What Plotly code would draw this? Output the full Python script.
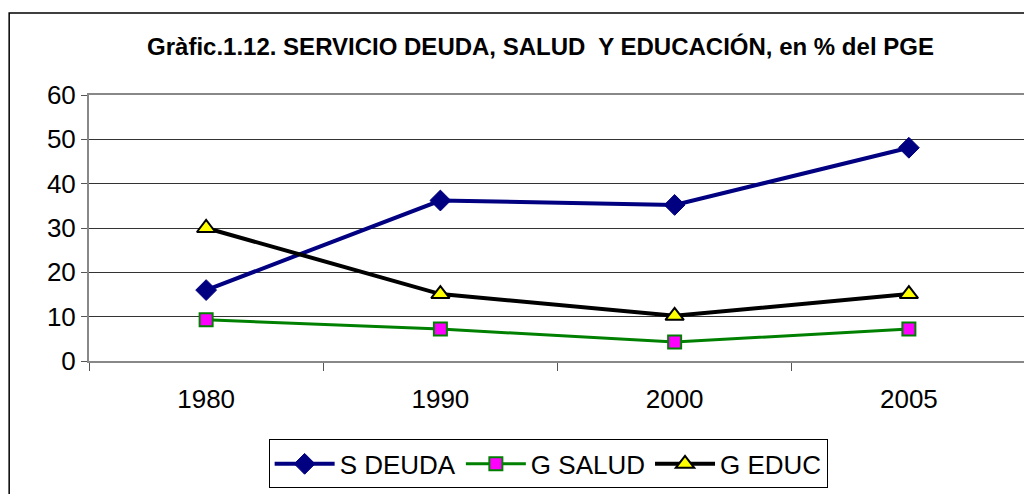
import plotly.graph_objects as go

years = ["1980", "1990", "2000", "2005"]
s_deuda = [16.0, 36.2, 35.2, 48.1]
g_salud = [9.3, 7.2, 4.3, 7.2]
g_educ = [30.0, 15.1, 10.2, 15.1]

FONT = "Liberation Sans, Arial, sans-serif"

fig = go.Figure()
fig.add_trace(go.Scatter(
    x=years, y=s_deuda, name="S DEUDA", mode="lines+markers",
    line=dict(color="#000080", width=4),
    marker=dict(symbol="diamond", size=16, color="#000080", line=dict(color="#000080", width=1)),
))
fig.add_trace(go.Scatter(
    x=years, y=g_salud, name="G SALUD", mode="lines+markers",
    line=dict(color="#008000", width=3),
    marker=dict(symbol="square", size=13, color="#ff00ff", line=dict(color="#008000", width=2)),
))
fig.add_trace(go.Scatter(
    x=years, y=g_educ, name="G EDUC", mode="lines+markers",
    line=dict(color="#000000", width=4),
    marker=dict(symbol="triangle-up", size=16, color="#ffff00", line=dict(color="#000000", width=2)),
))

# outer chart frame
fig.add_shape(type="rect", xref="paper", yref="paper",
              x0=-0.0852, x1=1.2, y0=-0.7, y1=1.308,
              line=dict(color="black", width=1.5), fillcolor="rgba(0,0,0,0)", layer="below")

fig.update_layout(
    width=1024, height=486,
    margin=dict(l=81, r=4, t=87, b=133),
    paper_bgcolor="white", plot_bgcolor="white",
    font=dict(family=FONT, color="black"),
    title=dict(text="<b>Gràfic.1.12. SERVICIO DEUDA, SALUD  Y EDUCACIÓN, en % del PGE</b>",
               x=0.52, xanchor="center", y=0.92, yanchor="middle",
               font=dict(size=24, family=FONT)),
    showlegend=True,
    legend=dict(orientation="h", x=0.49, xanchor="center", y=-0.387, yanchor="middle",
                bordercolor="black", borderwidth=1, font=dict(size=26, family=FONT),
                tracegroupgap=0, itemwidth=60),
)
fig.update_xaxes(
    type="category", range=[-0.5, 3.5], tickson="boundaries",
    ticks="outside", ticklen=8, tickcolor="#555", showgrid=False,
    showline=True, linecolor="#888", linewidth=2, mirror=True,
    tickfont=dict(size=26, family=FONT), ticklabelstandoff=14,
)
fig.update_yaxes(
    range=[0, 60], dtick=10, ticks="outside", ticklen=6, tickcolor="#555",
    showgrid=True, gridcolor="#333", gridwidth=1,
    showline=True, linecolor="#888", linewidth=2, mirror=True,
    tickfont=dict(size=26, family=FONT), zeroline=False,
)
fig.write_html("out.html")
